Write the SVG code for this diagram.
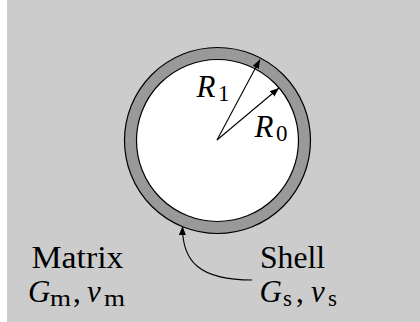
<svg xmlns="http://www.w3.org/2000/svg" width="420" height="322" viewBox="0 0 420 322">
<style>
  text { font-family: "Liberation Serif", "Times New Roman", serif; fill: #000; }
  .m { font-size: 31px; }
  .i { font-style: italic; }
  .sub { font-size: 23px; font-style: normal; }
  .ln { fill: none; stroke: #000; stroke-width: 1.1; }
</style>
<defs>
  <marker id="ah" markerUnits="userSpaceOnUse" markerWidth="10" markerHeight="8" refX="9" refY="3.5" orient="auto">
    <path d="M0,0 L9,3.5 L0,7 Z" fill="#000"/>
  </marker>
</defs>
<rect x="7" y="0" width="413" height="322" fill="#cccccc"/>
<g id="shell">
  <circle cx="217.5" cy="140.5" r="93" fill="#999999" stroke="#000" stroke-width="1.2"/>
</g>
<g id="core">
  <circle cx="217.5" cy="140.5" r="81" fill="#ffffff" stroke="#000" stroke-width="1.2"/>
</g>
<g id="connectors">
  <line class="ln" x1="217" y1="140" x2="260" y2="59.5" marker-end="url(#ah)"/>
  <line class="ln" x1="217" y1="140" x2="279" y2="88" marker-end="url(#ah)"/>
  <path class="ln" d="M252,280 C200,280 182,262 182.5,226" marker-end="url(#ah)"/>
</g>
<g id="label-R1">
  <text class="m i" x="196.5" y="96.5">R<tspan class="sub" x="218" y="100.5">1</tspan></text>
</g>
<g id="label-R0">
  <text class="m i" x="254.5" y="136.5">R<tspan class="sub" x="276" y="140.5">0</tspan></text>
</g>
<g id="matrix">
  <text class="m" x="31.5" y="268" textLength="92" lengthAdjust="spacingAndGlyphs">Matrix</text>
  <text class="m" y="301.5"><tspan class="i" x="28">G</tspan><tspan class="sub" x="50" y="306" textLength="21" lengthAdjust="spacingAndGlyphs">m</tspan><tspan x="73" y="301.5">,</tspan><tspan class="i" x="87">ν</tspan><tspan class="sub" x="104" y="306" textLength="21" lengthAdjust="spacingAndGlyphs">m</tspan></text>
</g>
<g id="shell-label">
  <text class="m" x="260" y="268" textLength="65" lengthAdjust="spacingAndGlyphs">Shell</text>
  <text class="m" y="301.5"><tspan class="i" x="259.5">G</tspan><tspan class="sub" x="283" y="306">s</tspan><tspan x="296" y="301.5">,</tspan><tspan class="i" x="311">ν</tspan><tspan class="sub" x="328" y="306">s</tspan></text>
</g>
</svg>
